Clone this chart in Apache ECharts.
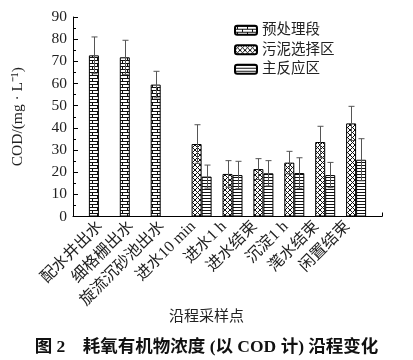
<!DOCTYPE html>
<html><head><meta charset="utf-8">
<script src="https://cdn.jsdelivr.net/npm/echarts@6/dist/echarts.min.js"></script>
<style>html,body{margin:0;padding:0;background:#fff}#c{width:413px;height:360px}</style>
</head><body><div id="c"></div>
<script>
const categories = ['', '配水井出水', '细格栅出水', '旋流沉砂池出水', '进水10 min', '进水1 h', '进水结束', '沉淀1 h', '滗水结束', '闲置结束', ''];
const seriesNames = ['预处理段', '污泥选择区', '主反应区'];
const pretreat    = [null, 72.7, 71.8, 59.5, null, null, null, null, null, null, null];
const pretreatErr = [null, 8.3, 7.7, 6.0, null, null, null, null, null, null, null];
const sludge      = [null, null, null, null, 32.7, 19.2, 21.4, 24.3, 33.6, 42.0, null];
const sludgeErr   = [null, null, null, null, 8.7, 6.0, 4.7, 5.1, 7.1, 7.7, null];
const mainZone    = [null, null, null, null, 18.0, 18.7, 19.5, 19.6, 18.7, 25.6, null];
const mainErr     = [null, null, null, null, 5.2, 6.2, 5.7, 6.9, 5.7, 9.5, null];
const yTicks = { min: 0, max: 90, interval: 10 };

const FONT = "'Liberation Serif','Noto Sans CJK SC',serif";
const BAR_W = 10;

function pattern(kind) {
  const c = document.createElement('canvas');
  let w, h;
  if (kind === 'brick') { w = 10; h = 6; }
  else if (kind === 'cross') { w = 5; h = 5; }
  else { w = 4; h = 3; }
  c.width = w; c.height = h;
  const g = c.getContext('2d');
  g.fillStyle = '#fff'; g.fillRect(0, 0, w, h);
  g.strokeStyle = '#111'; g.lineWidth = 1;
  g.beginPath();
  if (kind === 'brick') {
    g.moveTo(0, 0.5); g.lineTo(10, 0.5);
    g.moveTo(0, 3.5); g.lineTo(10, 3.5);
    g.moveTo(2.5, 0.5); g.lineTo(2.5, 3.5);
    g.moveTo(7.5, 3.5); g.lineTo(7.5, 6.5);
  } else if (kind === 'cross') {
    g.moveTo(0, 0); g.lineTo(5, 5);
    g.moveTo(5, 0); g.lineTo(0, 5);
  } else {
    g.moveTo(0, 0.5); g.lineTo(4, 0.5);
  }
  g.stroke();
  return { image: c, repeat: 'repeat' };
}

const patterns = [pattern('brick'), pattern('cross'), pattern('lines')];
const values = [pretreat, sludge, mainZone];
const errs = [pretreatErr, sludgeErr, mainErr];

const barSeries = values.map((arr, i) => ({
  name: seriesNames[i],
  type: 'bar',
  data: arr,
  barWidth: BAR_W,
  barGap: '0%',
  itemStyle: { color: patterns[i], borderColor: '#000', borderWidth: 1 },
  z: 2
}));

const errSeries = values.map((arr, i) => ({
  type: 'custom',
  silent: true,
  z: 5,
  data: arr.map((v, k) => v == null ? null : [k, v, errs[i][k]]).filter(d => d),
  renderItem: (params, api) => {
    const x = api.value(0), v = api.value(1), e = api.value(2);
    const t = api.coord([x, v + e]);
    const b = api.coord([x, v - e]);
    const cx = Math.round(t[0] + (i - 1) * BAR_W) + 0.5;
    const st = { stroke: '#555', lineWidth: 1 };
    return { type: 'group', children: [
      { type: 'line', shape: { x1: cx, y1: t[1], x2: cx, y2: b[1] }, style: st },
      { type: 'line', shape: { x1: cx - 3, y1: t[1], x2: cx + 3, y2: t[1] }, style: st },
      { type: 'line', shape: { x1: cx - 3, y1: b[1], x2: cx + 3, y2: b[1] }, style: st }
    ]};
  }
}));

const chart = echarts.init(document.getElementById('c'), null, { renderer: 'canvas' });
chart.setOption({
  animation: false,
  backgroundColor: '#fff',
  title: [
    { text: '沿程采样点', left: 'center', top: 305,
      textStyle: { fontFamily: FONT, fontSize: 15, fontWeight: 'normal', color: '#222' } },
    { text: '图 2    耗氧有机物浓度 (以 COD 计) 沿程变化', left: 'center', top: 334,
      textStyle: { fontFamily: FONT, fontSize: 17.5, fontWeight: 'bold', color: '#111' } }
  ],
  legend: {
    orient: 'vertical', left: 229, top: 18,
    itemWidth: 22, itemHeight: 9, itemGap: 5,
    data: seriesNames,
    textStyle: { fontFamily: FONT, fontSize: 14.5, color: '#222' }
  },
  grid: { left: 73, right: 31, top: 17, bottom: 143.5, containLabel: false },
  xAxis: {
    type: 'category',
    data: categories,
    boundaryGap: false,
    axisLine: { lineStyle: { color: '#000', width: 1 } },
    axisTick: { inside: true, length: 4, interval: (i) => i === categories.length - 1, lineStyle: { color: '#000' } },
    axisLabel: { interval: 0, rotate: 45, margin: 4, padding: [0, 5, 0, 0], fontFamily: FONT, fontSize: 16, color: '#222' },
    splitLine: { show: false }
  },
  yAxis: {
    type: 'value',
    min: yTicks.min, max: yTicks.max, interval: yTicks.interval,
    name: 'COD/(mg · L⁻¹)',
    nameLocation: 'middle', nameGap: 47,
    nameTextStyle: { fontFamily: FONT, fontSize: 15.5, color: '#222' },
    axisLine: { show: true, lineStyle: { color: '#000', width: 1 } },
    axisTick: { show: true, inside: true, length: 5, lineStyle: { color: '#000' } },
    minorTick: { show: true, splitNumber: 2, length: 3, lineStyle: { color: '#000' } },
    axisLabel: { margin: 6, fontFamily: FONT, fontSize: 15.5, color: '#222' },
    splitLine: { show: false }
  },
  series: barSeries.concat(errSeries)
});
</script></body></html>
